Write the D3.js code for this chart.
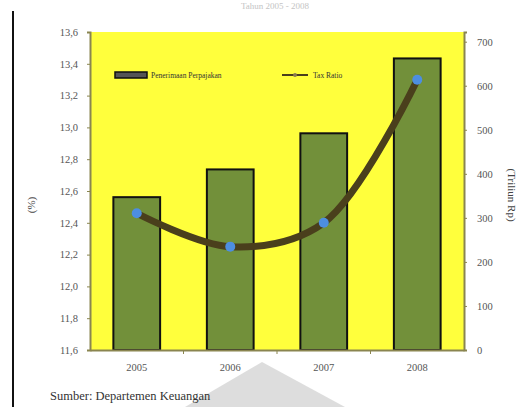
<!DOCTYPE html>
<html>
<head>
<meta charset="utf-8">
<script src="https://cdn.jsdelivr.net/npm/d3@7"></script>
<style>
  body { margin: 0; background: #fff; }
  svg { display: block; }
  .axis text { font-family: "Liberation Serif", serif; font-size: 10.5px; fill: #555; }
  .axis path, .axis line { stroke: #8a8550; }
</style>
</head>
<body>
<div id="chart"></div>
<script>
const years = ['2005', '2006', '2007', '2008'];
const penerimaan = [347, 410, 492, 662];
const taxRatio = [12.46, 12.25, 12.40, 13.30];
const leftTicks = [11.6, 11.8, 12.0, 12.2, 12.4, 12.6, 12.8, 13.0, 13.2, 13.4, 13.6];
const rightTicks = [0, 100, 200, 300, 400, 500, 600, 700];

document.addEventListener('DOMContentLoaded', function () {
    const width = 525, height = 407;
    const plot = { left: 90, right: 464, top: 32, bottom: 350 };

    const svg = d3.select('#chart').append('svg')
        .attr('width', width)
        .attr('height', height);

    // faint title at the top edge
    svg.append('text')
        .attr('x', 275).attr('y', 9)
        .attr('text-anchor', 'middle')
        .style('font-family', 'Liberation Serif, serif')
        .style('font-size', '9px')
        .style('fill', '#c4c4c4')
        .text('Tahun 2005 - 2008');

    // left page rule
    svg.append('line')
        .attr('x1', 13).attr('x2', 13).attr('y1', 11).attr('y2', height)
        .attr('stroke', '#111').attr('stroke-width', 2);

    const x = d3.scaleBand().domain(years).range([plot.left, plot.right]).paddingInner(0).paddingOuter(0);
    const yLeft = d3.scaleLinear().domain([11.6, 13.6]).range([plot.bottom, plot.top]);
    const yRight = d3.scaleLinear().domain([0, 722]).range([plot.bottom, plot.top]);

    svg.append('rect')
        .attr('x', plot.left).attr('y', plot.top)
        .attr('width', plot.right - plot.left)
        .attr('height', plot.bottom - plot.top)
        .attr('fill', '#ffff3c');

    const bw = x.bandwidth() * 0.5;
    svg.selectAll('.bar')
        .data(years)
        .enter().append('rect')
        .attr('class', 'bar')
        .attr('x', d => x(d) + (x.bandwidth() - bw) / 2)
        .attr('y', (d, i) => yRight(penerimaan[i]))
        .attr('width', bw)
        .attr('height', (d, i) => plot.bottom - yRight(penerimaan[i]))
        .attr('fill', '#72903a')
        .attr('stroke', '#111')
        .attr('stroke-width', 2);

    const pts = years.map((d, i) => [x(d) + x.bandwidth() / 2, yLeft(taxRatio[i])]);
    svg.append('path')
        .datum(pts)
        .attr('d', d3.line().curve(d3.curveCatmullRom.alpha(0.5)))
        .attr('fill', 'none')
        .attr('stroke', '#4a3f1c')
        .attr('stroke-width', 7)
        .attr('stroke-linecap', 'round');

    svg.selectAll('.pt')
        .data(pts)
        .enter().append('circle')
        .attr('cx', d => d[0]).attr('cy', d => d[1])
        .attr('r', 5)
        .attr('fill', '#4d8ee0');

    // axes
    svg.append('g')
        .attr('class', 'axis')
        .attr('transform', `translate(${plot.left},0)`)
        .call(d3.axisLeft(yLeft).tickValues(leftTicks).tickSize(3).tickPadding(9)
            .tickFormat(d => d.toFixed(1).replace('.', ',')))
        .call(g => g.select('.domain').attr('stroke-width', 2));

    svg.append('g')
        .attr('class', 'axis')
        .attr('transform', `translate(${plot.right},0)`)
        .call(d3.axisRight(yRight).tickValues(rightTicks).tickSize(3).tickPadding(10))
        .call(g => g.select('.domain').attr('stroke-width', 2));

    const xAxis = svg.append('g')
        .attr('class', 'axis')
        .attr('transform', `translate(0,${plot.bottom})`)
        .call(d3.axisBottom(x).tickSize(0).tickPadding(14));
    xAxis.select('.domain').attr('stroke-width', 2);
    xAxis.selectAll('.sep')
        .data(years.slice(1))
        .enter().append('line')
        .attr('x1', d => x(d)).attr('x2', d => x(d))
        .attr('y1', 0).attr('y2', 4)
        .attr('stroke', '#8a8550');

    // axis titles
    svg.append('text')
        .attr('transform', 'translate(35,205) rotate(-90)')
        .attr('text-anchor', 'middle')
        .style('font-family', 'Liberation Serif, serif')
        .style('font-size', '11px')
        .style('fill', '#444')
        .text('(%)');

    svg.append('text')
        .attr('transform', 'translate(508,195) rotate(90)')
        .attr('text-anchor', 'middle')
        .style('font-family', 'Liberation Serif, serif')
        .style('font-size', '11px')
        .style('fill', '#444')
        .text('(Triliun Rp)');

    // legend
    const legend = svg.append('g').attr('transform', 'translate(115,75)');
    legend.append('rect')
        .attr('x', 0).attr('y', -3).attr('width', 32).attr('height', 6)
        .attr('fill', '#555').attr('stroke', '#111').attr('stroke-width', 1.5);
    legend.append('text')
        .attr('x', 36).attr('y', 2.5)
        .style('font-family', 'Liberation Serif, serif')
        .style('font-size', '7.5px')
        .style('fill', '#333')
        .text('Penerimaan Perpajakan');
    legend.append('line')
        .attr('x1', 167).attr('x2', 193).attr('y1', 0).attr('y2', 0)
        .attr('stroke', '#4a3f1c').attr('stroke-width', 2);
    legend.append('circle')
        .attr('cx', 180).attr('cy', 0).attr('r', 2)
        .attr('fill', '#8a7a50');
    legend.append('text')
        .attr('x', 198).attr('y', 2.5)
        .style('font-family', 'Liberation Serif, serif')
        .style('font-size', '7.5px')
        .style('fill', '#333')
        .text('Tax Ratio');

    // watermark shape
    svg.append('polygon')
        .attr('points', '185,407 262,362 345,407')
        .attr('fill', '#d4d4d4')
        .attr('opacity', 0.8);

    svg.append('text')
        .attr('x', 50).attr('y', 400)
        .style('font-family', 'Liberation Serif, serif')
        .style('font-size', '12.5px')
        .style('fill', '#333')
        .text('Sumber: Departemen Keuangan');
});
</script>
</body>
</html>
